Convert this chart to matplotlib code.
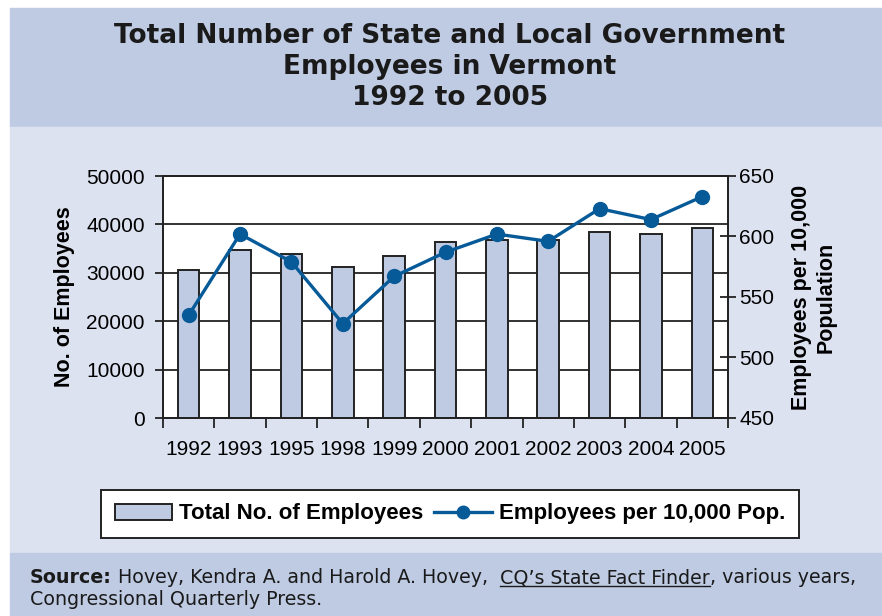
import matplotlib.pyplot as plt
from matplotlib.patches import Rectangle
from matplotlib.lines import Line2D

# Data
years = ['1992', '1993', '1995', '1998', '1999', '2000', '2001', '2002', '2003', '2004', '2005']
total_employees = [30600, 34700, 33900, 31100, 33500, 36400, 36800, 36800, 38500, 38000, 39200]
per_10000 = [535, 602, 579, 528, 567, 587, 602, 596, 623, 614, 633]

BAND = '#BFCBE3'
MID = '#DCE2F0'
BAR = '#BFCBE3'
LINE = '#075A98'
W, H = 882, 616

plt.rcParams['font.family'] = ['Liberation Sans', 'DejaVu Sans']

fig = plt.figure(figsize=(W / 100, H / 100), dpi=100, facecolor='white')

# background bands
def band(x0, y0, x1, y1, color):
    fig.patches.append(Rectangle((x0 / W, 1 - y1 / H), (x1 - x0) / W, (y1 - y0) / H,
                                 transform=fig.transFigure, color=color, zorder=-10))

band(10, 8, W, 127, BAND)
band(10, 127, W, 553, MID)
band(10, 553, W, H, BAND)

# title
fig.text(450 / W, 1 - 67 / H,
         'Total Number of State and Local Government\nEmployees in Vermont\n1992 to 2005',
         ha='center', va='center', fontsize=19, fontweight='bold',
         family='DejaVu Sans', linespacing=1.25, color='#1a1a1a')

# main axes
ax = fig.add_axes([163 / W, 1 - 418 / H, (728 - 163) / W, (418 - 176) / H])
ax.set_facecolor('white')
x = list(range(len(years)))
ax.bar(x, total_employees, width=0.42, color=BAR, edgecolor='#222222', linewidth=1.4, zorder=3)
ax.set_ylim(0, 50000)
ax.set_xlim(-0.5, len(years) - 0.5)
ax.set_yticks(range(0, 50001, 10000))
ax.yaxis.grid(True, color='#222222', linewidth=1.3, zorder=0)
ax.set_axisbelow(True)
ax.set_xticks(x)
ax.set_xticklabels(years)
ax.set_xticks([i - 0.5 for i in range(len(years) + 1)], minor=True)
ax.tick_params(axis='x', which='major', length=0, labelsize=15, pad=16)
ax.tick_params(axis='x', which='minor', length=7, width=1.3, direction='out', color='#222222')
ax.tick_params(axis='y', length=6, width=1.3, labelsize=15, color='#222222', pad=7)
for s in ax.spines.values():
    s.set_color('#222222')
    s.set_linewidth(1.3)
ax.set_ylabel('No. of Employees', fontsize=15.5, fontweight='bold', labelpad=8)

ax2 = ax.twinx()
ax2.plot(x, per_10000, color=LINE, linewidth=2.4, marker='o', markersize=10, zorder=5)
ax2.set_ylim(450, 650)
ax2.set_yticks(range(450, 651, 50))
ax2.tick_params(axis='y', length=12, width=1.3, direction='inout', labelsize=15,
                color='#222222', pad=2)
for s in ax2.spines.values():
    s.set_color('#222222')
    s.set_linewidth(1.3)
ax2.set_ylabel('Employees per 10,000\nPopulation', fontsize=15.5, fontweight='bold',
               labelpad=12, linespacing=1.25)

# legend
handles = [Rectangle((0, 0), 1, 1, facecolor=BAR, edgecolor='#222222', linewidth=1.4),
           Line2D([], [], color=LINE, linewidth=2.4, marker='o', markersize=9)]
leg = fig.legend(handles, ['Total No. of Employees', 'Employees per 10,000 Pop.'],
                 loc='center', bbox_to_anchor=(450 / W, 1 - 514 / H), ncol=2,
                 frameon=True, fancybox=False, edgecolor='#222222', framealpha=1,
                 prop={'weight': 'bold', 'size': 16}, handlelength=2.6,
                 handletextpad=0.3, columnspacing=0.5, borderpad=0.6)
leg.get_frame().set_linewidth(1.4)

# source note with underlined book title
fig.canvas.draw()
renderer = fig.canvas.get_renderer()
y1 = 1 - 583 / H
x_pos = 30 / W
fs = 13.7
parts = [('Source:', 'bold', False), (' Hovey, Kendra A. and Harold A. Hovey,  ', 'normal', False),
         ('CQ\u2019s State Fact Finder', 'normal', True), (', various years,', 'normal', False)]
for txt, wt, underline in parts:
    t = fig.text(x_pos, y1, txt, fontsize=fs, fontweight=wt, family='DejaVu Sans',
                 va='baseline', ha='left', color='#1a1a1a')
    bb = t.get_window_extent(renderer).transformed(fig.transFigure.inverted())
    if underline:
        fig.add_artist(Line2D([bb.x0, bb.x1], [y1 - 3 / H, y1 - 3 / H],
                              transform=fig.transFigure, color='#1a1a1a', linewidth=1))
    x_pos = bb.x1
fig.text(30 / W, 1 - 605 / H, 'Congressional Quarterly Press.', fontsize=fs,
         family='DejaVu Sans', va='baseline', ha='left', color='#1a1a1a')

fig.savefig('out.png', dpi=100, facecolor=fig.get_facecolor())
